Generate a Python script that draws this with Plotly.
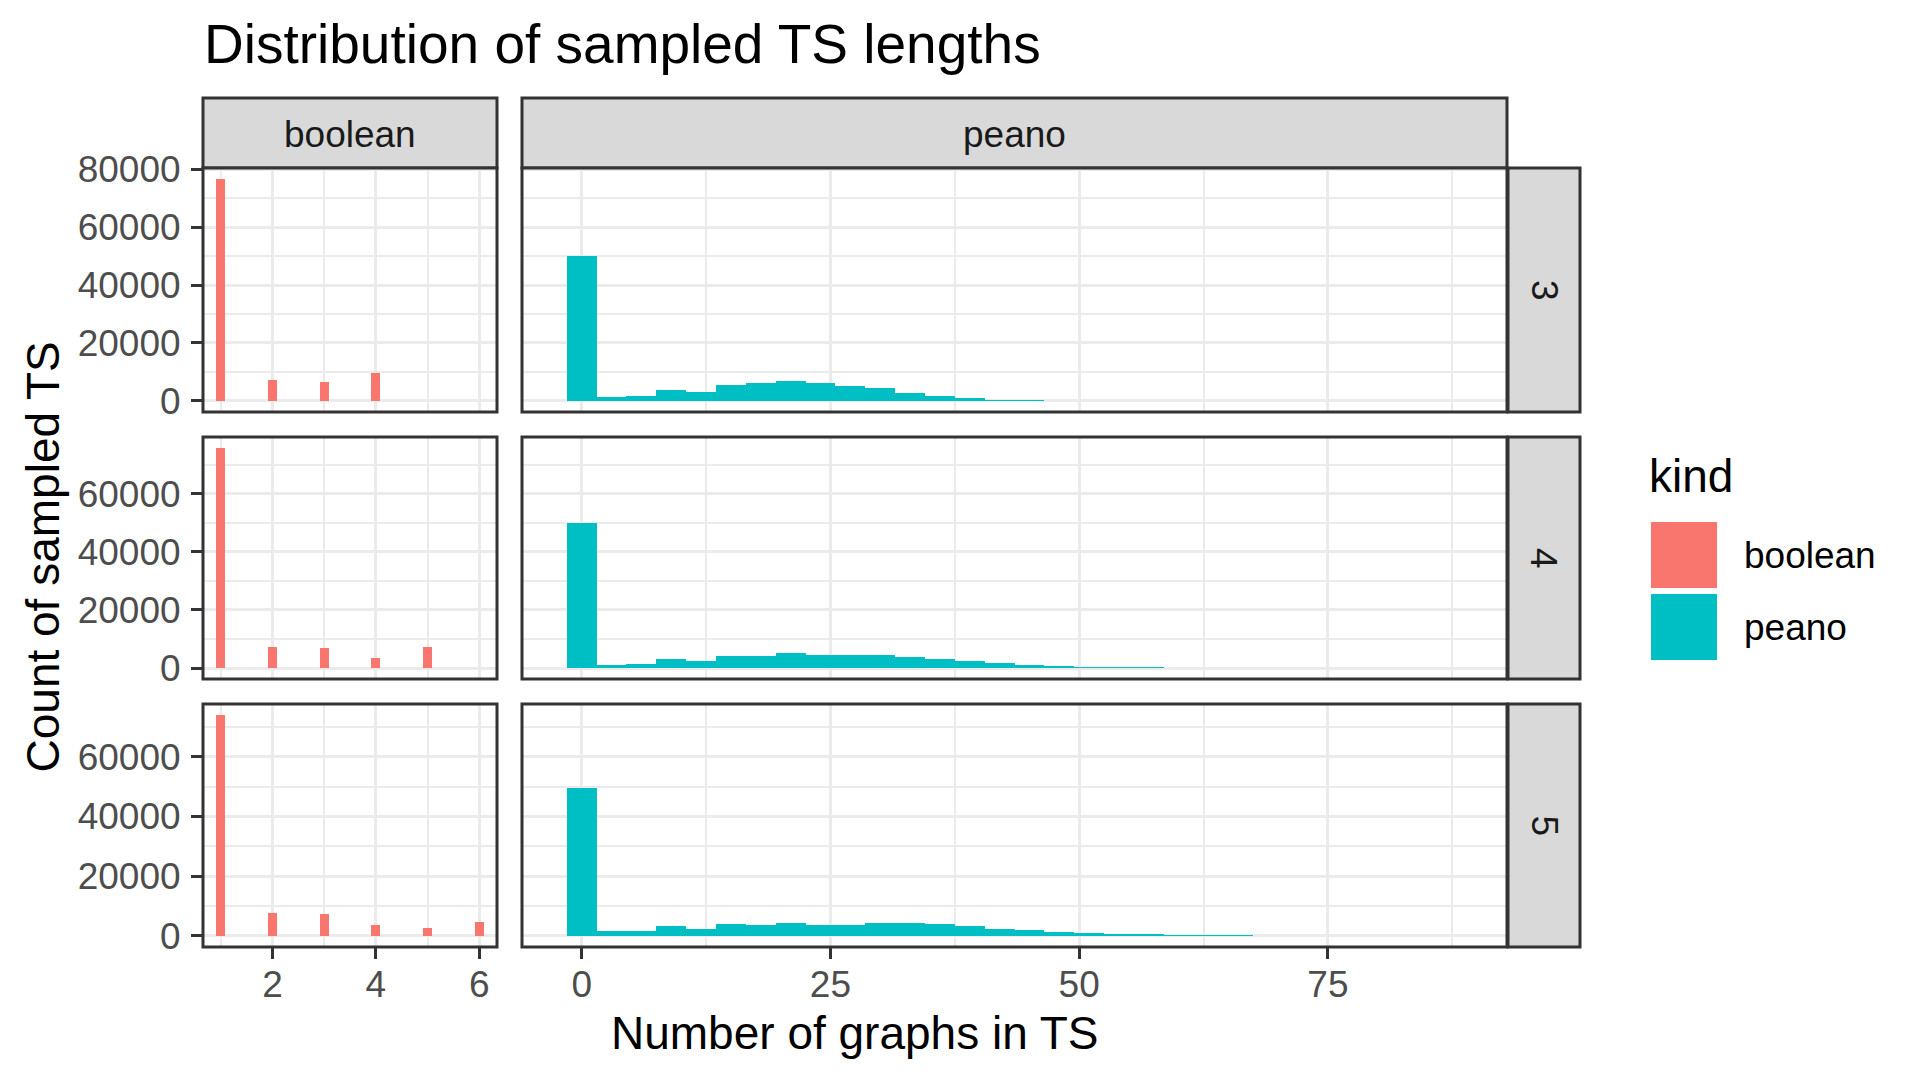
import plotly.graph_objects as go

# ---------------- data ----------------
kinds = ["boolean", "peano"]
facet_rows = ["3", "4", "5"]

bool_x = [1, 2, 3, 4, 5, 6]
bool_counts_3 = [76600, 7300, 6500, 9800, 0, 0]
bool_counts_4 = [75800, 7400, 6800, 3600, 7100, 0]
bool_counts_5 = [74000, 7600, 7200, 3600, 2700, 4600]

peano_x = [0, 3, 6, 9, 12, 15, 18, 21, 24, 27, 30, 33, 36, 39, 42,
           45, 48, 51, 54, 57, 60, 63, 66, 69, 72, 75, 78, 81, 84, 87]
peano_counts_3 = [50000, 1300, 1700, 3700, 3000, 5500, 6100, 6800, 6100, 5100,
                  4400, 2600, 1600, 900, 250, 230, 0, 0, 0, 0,
                  0, 0, 0, 0, 0, 0, 0, 0, 0, 0]
peano_counts_4 = [49800, 1100, 1500, 3200, 2500, 4200, 4200, 5200, 4500, 4500,
                  4500, 3900, 3200, 2300, 1600, 900, 450, 200, 200, 150,
                  0, 0, 0, 0, 0, 0, 0, 0, 0, 0]
peano_counts_5 = [49500, 1750, 1750, 3300, 2300, 4000, 3600, 4300, 3600, 3600,
                  4300, 4300, 4000, 3300, 2300, 2000, 1300, 1000, 650, 330,
                  300, 250, 200, 0, 0, 0, 0, 0, 0, 0]

y_tick_vals = [0, 20000, 40000, 60000, 80000]
y_tick_text = ["0", "20000", "40000", "60000", "80000"]
y_minor_vals = [10000, 30000, 50000, 70000]
bool_tick_vals = [2, 4, 6]
bool_minor_vals = [1, 3, 5]
peano_tick_vals = [0, 25, 50, 75]
peano_minor_vals = [12.5, 37.5, 62.5, 87.5]

title_text = "Distribution of sampled TS lengths"
x_title = "Number of graphs in TS"
y_title = "Count of sampled TS"
legend_title = "kind"

fill_colors = ["#F8766D", "#00BFC4"]
BINS = 30

# ---------------- layout geometry (pixels) ----------------
W, H = 1920, 1080
OFF = 8  # compensate the page's default body margin
col_px = [(203, 497), (522, 1507)]
row_px = [(168, 412), (437, 679), (704, 947)]
strip_top = (98, 168)
strip_right = (1508, 1580)

def px(x):
    return (x - OFF) / W

def py(y):
    return 1 - (y - OFF) / H

FONT = "Liberation Sans, Arial, sans-serif"
GRID = "#EBEBEB"
DARK = "#333333"
TICK_SIZE = 37
AXIS_TITLE_SIZE = 46
TITLE_SIZE = 55

counts = [
    [bool_counts_3, peano_counts_3],
    [bool_counts_4, peano_counts_4],
    [bool_counts_5, peano_counts_5],
]
xs = [bool_x, peano_x]

fig = go.Figure()
layout_axes = {}
shapes = []
annotations = []

col_width = []
col_range = []
for c in range(2):
    x = xs[c]
    w = (max(x) - min(x)) / (BINS - 1)
    lo, hi = min(x) - w / 2, max(x) + w / 2
    pad = 0.05 * (hi - lo)
    col_width.append(w)
    col_range.append([lo - pad, hi + pad])

tick_vals = [bool_tick_vals, peano_tick_vals]
minor_vals = [bool_minor_vals, peano_minor_vals]

for r in range(3):
    m = max(max(counts[r][0]), max(counts[r][1]))
    yr = [-0.05 * m, 1.05 * m]
    for c in range(2):
        i = r * 2 + c + 1
        xa = "x" if i == 1 else f"x{i}"
        ya = "y" if i == 1 else f"y{i}"
        fig.add_trace(go.Bar(
            x=xs[c], y=counts[r][c], width=col_width[c],
            marker=dict(color=fill_colors[c], line=dict(width=0)),
            name=kinds[c], showlegend=False, xaxis=xa, yaxis=ya,
            hoverinfo="x+y",
        ))
        bottom = r == 2
        left = c == 0
        layout_axes[f"xaxis{'' if i == 1 else i}"] = dict(
            domain=[px(col_px[c][0]), px(col_px[c][1])],
            anchor=ya, range=col_range[c], automargin=False,
            tickmode="array", tickvals=tick_vals[c],
            showticklabels=bottom,
            ticks="outside" if bottom else "", ticklen=11, tickwidth=2.5, tickcolor=DARK,
            tickfont=dict(family=FONT, size=TICK_SIZE, color="#4D4D4D"),
            ticklabelstandoff=-6,
            showgrid=True, gridcolor=GRID, gridwidth=3.2,
            minor=dict(tickmode="array", tickvals=minor_vals[c], showgrid=True,
                       gridcolor=GRID, gridwidth=1.6, ticks=""),
            zeroline=False, showline=False, fixedrange=True,
        )
        layout_axes[f"yaxis{'' if i == 1 else i}"] = dict(
            domain=[py(row_px[r][1]), py(row_px[r][0])],
            anchor=xa, range=yr, automargin=False,
            tickmode="array", tickvals=y_tick_vals, ticktext=y_tick_text,
            showticklabels=left,
            ticks="outside" if left else "", ticklen=11, tickwidth=2.5, tickcolor=DARK,
            tickfont=dict(family=FONT, size=TICK_SIZE, color="#4D4D4D"),
            ticklabelstandoff=3,
            showgrid=True, gridcolor=GRID, gridwidth=3.2,
            minor=dict(tickmode="array", tickvals=y_minor_vals, showgrid=True,
                       gridcolor=GRID, gridwidth=1.6, ticks=""),
            zeroline=False, showline=False, fixedrange=True,
        )
        shapes.append(dict(type="rect", xref="paper", yref="paper",
                           x0=px(col_px[c][0]), x1=px(col_px[c][1]),
                           y0=py(row_px[r][1]), y1=py(row_px[r][0]),
                           line=dict(color=DARK, width=3), fillcolor="rgba(0,0,0,0)",
                           layer="above"))

# top strips
for c in range(2):
    shapes.append(dict(type="rect", xref="paper", yref="paper",
                       x0=px(col_px[c][0]), x1=px(col_px[c][1]),
                       y0=py(strip_top[1]), y1=py(strip_top[0]),
                       line=dict(color=DARK, width=3), fillcolor="#D9D9D9", layer="below"))
    annotations.append(dict(text=kinds[c], xref="paper", yref="paper",
                            x=px((col_px[c][0] + col_px[c][1]) / 2),
                            y=py((strip_top[0] + strip_top[1]) / 2 + 2),
                            xanchor="center", yanchor="middle", showarrow=False,
                            font=dict(family=FONT, size=TICK_SIZE, color="#1A1A1A")))
# right strips
for r in range(3):
    shapes.append(dict(type="rect", xref="paper", yref="paper",
                       x0=px(strip_right[0]), x1=px(strip_right[1]),
                       y0=py(row_px[r][1]), y1=py(row_px[r][0]),
                       line=dict(color=DARK, width=3), fillcolor="#D9D9D9", layer="below"))
    annotations.append(dict(text=facet_rows[r], xref="paper", yref="paper",
                            x=px((strip_right[0] + strip_right[1]) / 2),
                            y=py((row_px[r][0] + row_px[r][1]) / 2),
                            xanchor="center", yanchor="middle", showarrow=False,
                            textangle=90,
                            font=dict(family=FONT, size=TICK_SIZE, color="#1A1A1A")))

# title
annotations.append(dict(text=title_text, xref="paper", yref="paper",
                        x=px(202), y=py(44), xanchor="left", yanchor="middle",
                        showarrow=False, font=dict(family=FONT, size=TITLE_SIZE, color="black")))
# axis titles
annotations.append(dict(text=x_title, xref="paper", yref="paper",
                        x=px((col_px[0][0] + col_px[1][1]) / 2), y=py(1033),
                        xanchor="center", yanchor="middle", showarrow=False,
                        font=dict(family=FONT, size=AXIS_TITLE_SIZE, color="black")))
annotations.append(dict(text=y_title, xref="paper", yref="paper",
                        x=px(42), y=py((row_px[0][0] + row_px[2][1]) / 2),
                        xanchor="center", yanchor="middle", showarrow=False,
                        textangle=-90,
                        font=dict(family=FONT, size=AXIS_TITLE_SIZE, color="black")))

# legend (ggplot style keys)
annotations.append(dict(text=legend_title, xref="paper", yref="paper",
                        x=px(1647), y=py(476), xanchor="left", yanchor="middle",
                        showarrow=False, font=dict(family=FONT, size=AXIS_TITLE_SIZE, color="black")))
key_tops = [522, 594]
for k in range(2):
    shapes.append(dict(type="rect", xref="paper", yref="paper",
                       x0=px(1651), x1=px(1717),
                       y0=py(key_tops[k] + 66), y1=py(key_tops[k]),
                       line=dict(width=0), fillcolor=fill_colors[k], layer="above"))
    annotations.append(dict(text=kinds[k], xref="paper", yref="paper",
                            x=px(1742), y=py(key_tops[k] + 33), xanchor="left", yanchor="middle",
                            showarrow=False, font=dict(family=FONT, size=TICK_SIZE, color="black")))

fig.update_layout(
    template="none",
    width=W, height=H,
    margin=dict(l=0, r=0, t=0, b=0, pad=0, autoexpand=False),
    paper_bgcolor="white", plot_bgcolor="white",
    barmode="overlay", bargap=0,
    showlegend=False,
    shapes=shapes, annotations=annotations,
    font=dict(family=FONT),
    **layout_axes,
)

fig.write_html("out.html")
